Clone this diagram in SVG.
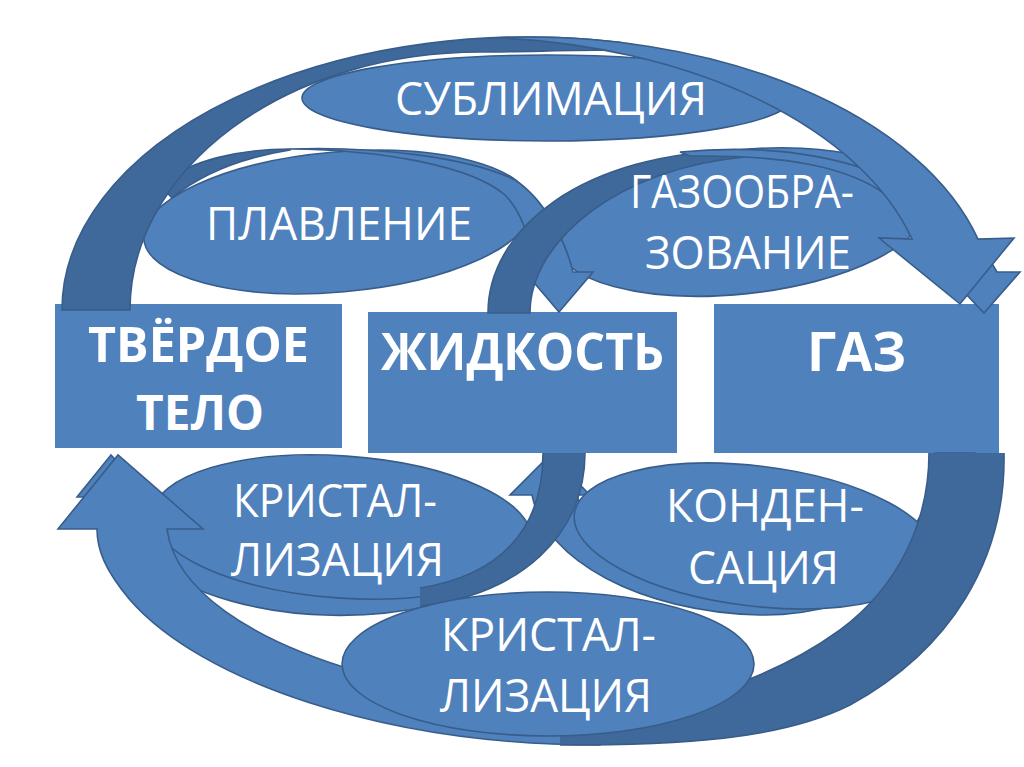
<svg xmlns="http://www.w3.org/2000/svg" width="1024" height="767" viewBox="0 0 1024 767">
<style>
.b{fill:#4F81BD}
.s{fill:#4F81BD;stroke:#385D8A;stroke-width:1.6}
.d{fill:#40699B;stroke:#385D8A;stroke-width:1.6}
.df{fill:#40699B;stroke:none}
.ln{fill:none;stroke:#385D8A;stroke-width:1.6}
.t{font-family:"Open Sans","Noto Sans","DejaVu Sans",sans-serif;fill:#FFFFFF;font-size:45px;text-anchor:middle}
.tb{font-family:"Open Sans","Noto Sans","DejaVu Sans",sans-serif;fill:#FFFFFF;font-weight:bold;text-anchor:middle}
</style>
<rect width="1024" height="767" fill="#FFFFFF"/>
<g id="node-solid">
<rect class="b" x="55" y="304" width="287" height="144"/>
<text class="tb" x="198.5" y="362" font-size="48" textLength="221" lengthAdjust="spacingAndGlyphs">ТВЁРДОЕ</text>
<text class="tb" x="200" y="430" font-size="48" textLength="128" lengthAdjust="spacingAndGlyphs">ТЕЛО</text>
</g>
<g id="node-liquid">
<rect class="b" x="368" y="312" width="309" height="141"/>
<text class="tb" x="522.5" y="370" font-size="52" textLength="283" lengthAdjust="spacingAndGlyphs">ЖИДКОСТЬ</text>
</g>
<g id="node-gas">
<rect class="b" x="714" y="304" width="285" height="149"/>
<text class="tb" x="856.5" y="371" font-size="54" textLength="99" lengthAdjust="spacingAndGlyphs">ГАЗ</text>
</g>
<g id="connectors">
<g id="conn-gasification-label">
<ellipse class="s" cx="740" cy="222" rx="187" ry="72" transform="rotate(-6 740 222)"/>
</g>
<g id="conn-melting">
<path class="d" d="M290,149 C240,149 190,160 160,185 L172,198 C200,175 240,158 290,150 Z"/>
<ellipse class="s" cx="338" cy="222" rx="195" ry="70" transform="rotate(-5 338 222)"/>
<path class="s" d="M290,149 C380,146 470,158 515,180 C545,200 565,240 573,272 L593,272 L559,312 L525,272 L535,272 C530,235 520,210 505,195 C470,165 380,150 290,149 Z"/>
</g>
<g id="conn-sublimation-back">
<path class="d" d="M62,310 A466 273 0 0 1 620,42.4 L620,50 C570,50 520,52 480,52 A350 258 0 0 0 130,310 Z"/>
<ellipse class="s" cx="547" cy="98" rx="245" ry="43"/>
</g>
<g id="conn-gasification">
<path class="d" d="M488,313 C488,230 580,152 745,150 L745,157 C620,168 530,240 530,313 Z"/>
<path class="s" d="M680,152 C810,140 940,170 997,272 L1020,272 L984,313 L945,272 L960,272 C945,250 920,225 890,198 C850,165 780,155 690,156 Z"/>
</g>
<g id="conn-sublimation">
<path class="s" d="M495,37.7 A466 273 0 0 1 978,239.1 L1014,238 L960,304 L879,238 L912,239.1 A466 273 0 0 0 495,37.7 Z"/>
</g>
<g id="conn-crystallization-liquid">
<path class="s" d="M435,605 C300,635 140,600 92,497 L77,497 L111,455 L150,497 L137,497 C150,560 250,598 435,587 Z"/>
<ellipse class="s" cx="342" cy="527" rx="190" ry="71" transform="rotate(4 342 527)"/>
</g>
<g id="conn-crystallization-gas-front">
<path class="s" d="M600,745 C380,745 200,680 130,600 C105,570 97,550 97,529 L58,529 L118,455 L203,529 L167,529 C175,590 250,640 360,672 C440,695 500,710 600,714 Z"/>
</g>
<g id="conn-condensation">
<path class="s" d="M532,495 C545,560 640,612 760,615 C860,617 960,560 975,453 L935,453 C935,540 870,585 760,585 C660,585 590,550 577,495 L590,495 L550,455 L510,495 Z"/>
</g>
<g id="conn-crystallization-liquid-back">
<path class="df" d="M585,453 C585,535 520,595 420,606 L420,588 C500,575 543,530 543,453 Z"/>
<path class="ln" d="M585,453 C585,535 520,595 420,606 M420,588 C500,575 543,530 543,453"/>
</g>
<g id="conn-condensation-label">
<ellipse class="s" cx="755" cy="536" rx="182" ry="70" transform="rotate(7 755 536)"/>
</g>
<g id="conn-crystallization-gas-back">
<path class="df" d="M1004,453 C1006,560 950,650 850,705 C780,740 680,745 560,745 L560,715 C660,712 760,688 840,630 C900,585 929,520 929,453 Z"/>
<path class="ln" d="M1004,453 C1006,560 950,650 850,705 C780,740 680,745 560,745 M560,715 C660,712 760,688 840,630 C900,585 929,520 929,453"/>
<ellipse class="s" cx="548" cy="664" rx="206" ry="72"/>
</g>
<g id="labels">
<text class="t" x="551" y="115" textLength="312" lengthAdjust="spacingAndGlyphs">СУБЛИМАЦИЯ</text>
<text class="t" x="339" y="240" textLength="266" lengthAdjust="spacingAndGlyphs">ПЛАВЛЕНИЕ</text>
<text class="t" x="742" y="208" textLength="224" lengthAdjust="spacingAndGlyphs">ГАЗООБРА-</text>
<text class="t" x="748" y="269" textLength="206" lengthAdjust="spacingAndGlyphs">ЗОВАНИЕ</text>
<text class="t" x="335" y="517" textLength="204" lengthAdjust="spacingAndGlyphs">КРИСТАЛ-</text>
<text class="t" x="337.5" y="576" textLength="213" lengthAdjust="spacingAndGlyphs">ЛИЗАЦИЯ</text>
<text class="t" x="765" y="522" textLength="198" lengthAdjust="spacingAndGlyphs">КОНДЕН-</text>
<text class="t" x="763.5" y="584" textLength="151" lengthAdjust="spacingAndGlyphs">САЦИЯ</text>
<text class="t" x="548.5" y="651" textLength="215" lengthAdjust="spacingAndGlyphs">КРИСТАЛ-</text>
<text class="t" x="546" y="712" textLength="212" lengthAdjust="spacingAndGlyphs">ЛИЗАЦИЯ</text>
</g>
</g>
</svg>
